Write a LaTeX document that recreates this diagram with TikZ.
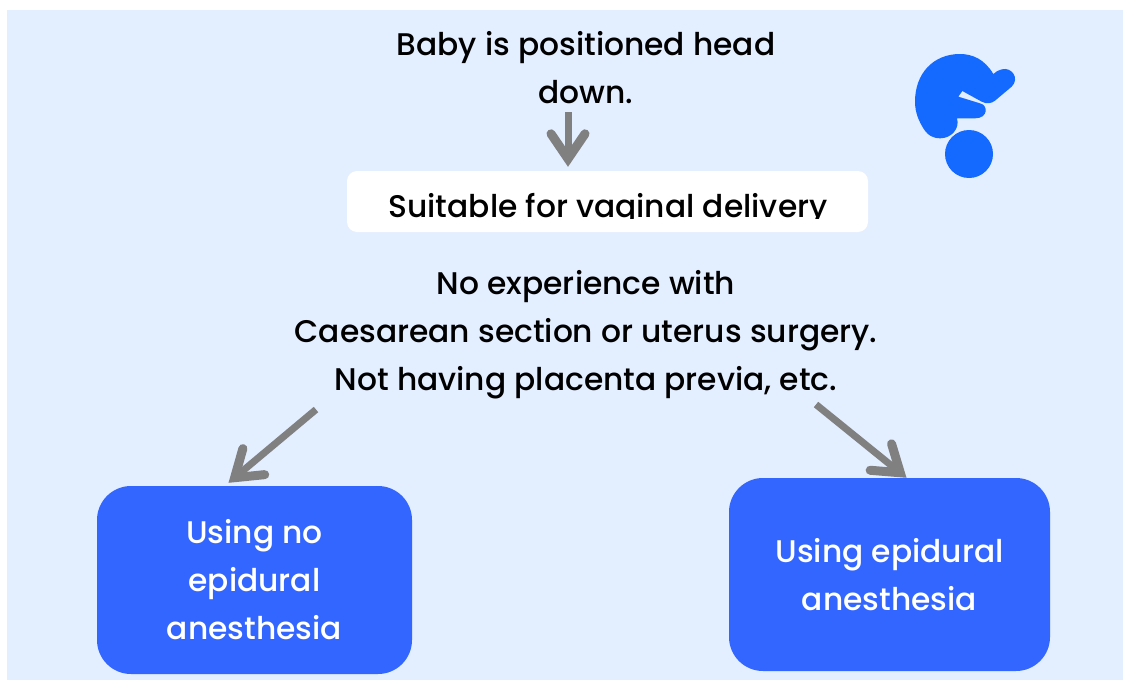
\documentclass[tikz,border=0pt]{standalone}
\usepackage{fontspec}
\setmainfont{Poppins}[UprightFont=* Medium]
\usepackage{tikz}
\usetikzlibrary{arrows.meta,positioning,calc}
\definecolor{BabyPale}{HTML}{E3EEFF}
\definecolor{BabyBlue}{HTML}{3366FF}
\definecolor{BabyIcon}{HTML}{1469FF}
\definecolor{BabyGray}{HTML}{808080}

\begin{document}
\begin{tikzpicture}[x=1pt,y=-1pt,
    flowtext/.style={align=center,inner sep=0pt,font=\fontsize{31.3}{48}\selectfont},
    flowbox/.style={flowtext,fill=BabyBlue,text=white,rounded corners=34pt,minimum height=188pt},
    flowarrow/.style={BabyGray,line width=7pt,-{Straight Barb[length=25pt,width=34pt,line width=9pt,line cap=round,line join=miter]}}]
  \useasboundingbox (0,0) rectangle (1123,680);
  \fill[BabyPale] (7,10) rectangle (1123,680);
  % icon
  \begin{scope}[shift={(880,30)},scale=1/3]
    \fill[BabyIcon] (267,372) circle (72);
    \fill[BabyIcon] (340,132) .. controls (315,90) and (280,72) .. (240,72)
      .. controls (160,72) and (105,130) .. (105,215)
      .. controls (105,250) and (118,275) .. (130,295)
      .. controls (145,320) and (165,325) .. (180,325)
      .. controls (215,325) and (240,295) .. (231,265)
      -- (285,265) .. controls (325,265) and (325,225) .. (300,220)
      -- (235,200) -- (247,183) -- (305,215)
      .. controls (320,223) and (335,220) .. (345,212)
      -- (395,170) .. controls (420,145) and (395,110) .. (365,118)
      .. controls (355,120) and (348,125) .. (340,132) -- cycle;
  \end{scope}
  \node[flowtext] (head) at (586,68) {Baby is positioned head\\down.};
  \node[fill=white,rounded corners=10pt,minimum width=521pt,minimum height=61pt,inner sep=0pt] (suit) at (607.5,201.5) {};
  \begin{scope}
    \clip (347,171) rectangle (868,218);
    \node[flowtext,anchor=base] (suittext) at (608,217) {Suitable for vaginal delivery};
  \end{scope}
  \node[flowtext] (crit) at (586,335) {No experience with\\Caesarean section or uterus surgery.\\Not having placenta previa, etc.};
  \node[flowbox,minimum width=315pt] (noepi) at (254.5,580) {Using no\\epidural\\anesthesia};
  \node[flowbox,minimum width=321pt,minimum height=193pt] (epi) at (889.5,574.5) {Using epidural\\anesthesia};
  \draw[flowarrow] ($(head.south)+(-18,8)$) -- ($(suit.north)+(-39.5,-4)$);
  \draw[flowarrow] ($(crit.south)+(-270,10)$) -- ($(noepi.north)+(-26,-3)$);
  \draw[flowarrow] ($(crit.south)+(230,5)$) -- ($(epi.north)+(17,0)$);
\end{tikzpicture}
\end{document}
